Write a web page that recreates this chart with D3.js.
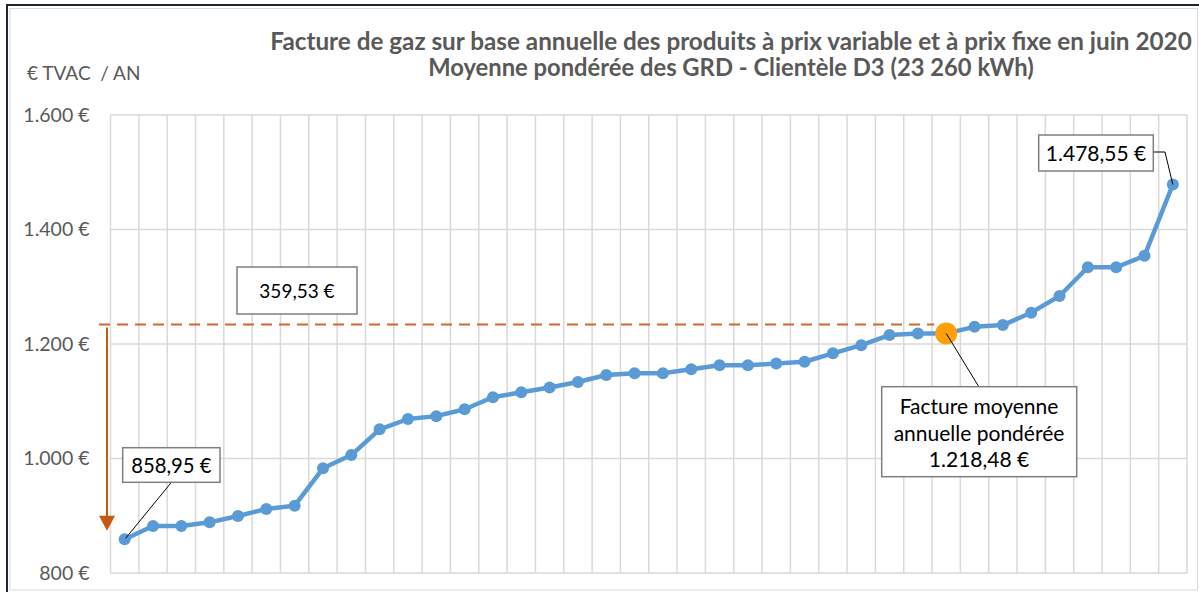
<!DOCTYPE html>
<html><head><meta charset="utf-8">
<script src="https://cdn.jsdelivr.net/npm/d3@7"></script>
<style>body{margin:0;background:#fff;} svg{display:block;font-family:Lato,"Open Sans",sans-serif;}</style>
</head><body><svg id="c" width="1199" height="592"></svg>
<script>
// ---------- data ----------
const categories = ["1","2","3","4","5","6","7","8","9","10","11","12","13","14","15","16","17","18","19","20",
  "21","22","23","24","25","26","27","28","29","30","31","32","33","34","35","36","37","38"];
const values = [858.95, 882, 882, 888.5, 899.6, 911.8, 917.6, 982.9, 1006, 1051,
  1069, 1074, 1086, 1107, 1115.6, 1124, 1133.6, 1145.8, 1148.8, 1148.8,
  1156, 1162.8, 1162.8, 1166, 1169, 1183.7, 1198, 1215.7, 1218.2, 1218.48,
  1230, 1233, 1254.7, 1283.8, 1334, 1334, 1354, 1478.55];
const yTicks = [800, 1000, 1200, 1400, 1600];
const yTickLabels = ["800 €", "1.000 €", "1.200 €", "1.400 €", "1.600 €"];
const titleLines = ["Facture de gaz sur base annuelle des produits à prix variable et à prix fixe en juin 2020",
  "Moyenne pondérée des GRD - Clientèle D3 (23 260 kWh)"];
const yAxisTitle = "€ TVAC  / AN";
const averageIndex = 29;
const averageLabel = ["Facture moyenne", "annuelle pondérée", "1.218,48 €"];
const minLabel = "858,95 €";
const maxLabel = "1.478,55 €";
const spreadLabel = "359,53 €";
const spreadLineValue = 1234;

// ---------- layout ----------
const svg = d3.select("#c");
const m = {left: 110.5, right: 1187, top: 115, bottom: 573};
const x = d3.scaleBand().domain(categories).range([m.left, m.right]).padding(0);
const y = d3.scaleLinear().domain([800, 1600]).range([m.bottom, m.top]);
const cx = i => x(categories[i]) + x.bandwidth() / 2;
const cy = i => y(values[i]);

// frame
svg.append("rect").attr("x", 10).attr("y", 8.5).attr("width", 1187.5).attr("height", 581.5)
  .attr("fill", "none").attr("stroke", "#D9D9D9").attr("stroke-width", 1);
svg.append("line").attr("x1", 7).attr("x2", 7).attr("y1", 4).attr("y2", 592).attr("stroke", "#1B2631").attr("stroke-width", 2);
svg.append("line").attr("x1", 6).attr("x2", 1199).attr("y1", 5).attr("y2", 5).attr("stroke", "#1B2631").attr("stroke-width", 2);

// gridlines
const grid = svg.append("g").attr("stroke", "#D9D9D9").attr("stroke-width", 1.5);
grid.selectAll("line.h").data(yTicks).join("line").attr("class", "h")
  .attr("x1", m.left).attr("x2", m.right).attr("y1", d => y(d)).attr("y2", d => y(d));
grid.selectAll("line.v").data(categories.concat(["end"])).join("line").attr("class", "v")
  .attr("x1", d => d === "end" ? m.right : x(d)).attr("x2", d => d === "end" ? m.right : x(d))
  .attr("y1", m.top).attr("y2", m.bottom);

// y axis
const yAxis = d3.axisLeft(y).tickValues(yTicks).tickFormat((d, i) => yTickLabels[i]).tickSize(0).tickPadding(21);
const ga = svg.append("g").attr("transform", `translate(${m.left},0)`).call(yAxis);
ga.select(".domain").remove();
ga.selectAll("text").attr("font-family", "Lato").attr("font-size", 19.5).attr("fill", "#595959");

// axis title
svg.append("text").attr("x", 27).attr("y", 80).attr("font-size", 19).attr("fill", "#595959")
  .style("white-space", "pre").text(yAxisTitle);

// title
function fit(sel, w) {
  const n = sel.node(); const cur = +sel.attr("font-size");
  const len = n.getComputedTextLength();
  sel.attr("font-size", cur * w / len);
}
const t1 = svg.append("text").attr("x", 731).attr("y", 50).attr("text-anchor", "middle")
  .attr("font-weight", "bold").attr("font-size", 19).attr("fill", "#595959").text(titleLines[0]);
fit(t1, 922);
const t2 = svg.append("text").attr("x", 731).attr("y", 76).attr("text-anchor", "middle")
  .attr("font-weight", "bold").attr("font-size", 19).attr("fill", "#595959").text(titleLines[1]);
fit(t2, 606);

// spread dashed line + arrow
const arrowColor = "#C55A11";
svg.append("line").attr("x1", 99).attr("x2", cx(averageIndex) - 12)
  .attr("y1", y(spreadLineValue)).attr("y2", y(spreadLineValue))
  .attr("stroke", "#D2692C").attr("stroke-width", 2).attr("stroke-dasharray", "11,7");
const ax = 107, atip = cy(0) - 8.5;
svg.append("line").attr("x1", ax).attr("x2", ax).attr("y1", y(spreadLineValue) + 3).attr("y2", atip - 12)
  .attr("stroke", arrowColor).attr("stroke-width", 2);
svg.append("path").attr("d", `M${ax - 8},${atip - 15}L${ax + 8},${atip - 15}L${ax},${atip}Z`).attr("fill", arrowColor);

// line series
const line = d3.line().x((d, i) => cx(i)).y((d, i) => cy(i));
svg.append("path").datum(values).attr("d", line).attr("fill", "none")
  .attr("stroke", "#5B9BD5").attr("stroke-width", 4.5).attr("stroke-linejoin", "round");
svg.selectAll("circle.pt").data(values).join("circle").attr("class", "pt")
  .attr("cx", (d, i) => cx(i)).attr("cy", (d, i) => cy(i))
  .attr("r", (d, i) => i === averageIndex ? 11 : 6)
  .attr("fill", (d, i) => i === averageIndex ? "#FFA00A" : "#5B9BD5");

// annotation boxes
function box(x0, y0, w, h) {
  svg.append("rect").attr("x", x0).attr("y", y0).attr("width", w).attr("height", h)
    .attr("fill", "#fff").attr("stroke", "#7F7F7F").attr("stroke-width", 1.5);
}
function leader(pts) {
  svg.append("path").attr("d", d3.line()(pts)).attr("fill", "none").attr("stroke", "#000").attr("stroke-width", 1);
}
function label(tx, ty, s, size) {
  svg.append("text").attr("x", tx).attr("y", ty).attr("text-anchor", "middle")
    .attr("font-size", size).attr("fill", "#000").text(s);
}
// min
leader([[171.7, 482], [cx(0) + 1, cy(0) - 1]]);
box(122.7, 447.7, 97.3, 34.6);
label(171.4, 472.5, minLabel, 20.3);
// max
const last = values.length - 1;
leader([[1153, 152], [1165, 152], [cx(last), cy(last)]]);
box(1038.7, 135, 114.6, 36);
label(1096, 160.5, maxLabel, 21);
// spread
box(237, 267, 120, 47);
label(297, 298, spreadLabel, 19);
// average
leader([[cx(averageIndex), cy(averageIndex)], [979, 387]]);
box(881.7, 386.7, 195, 90);
averageLabel.forEach((s, i) => label(979, 414 + i * 26.5, s, 21));
</script></body></html>
